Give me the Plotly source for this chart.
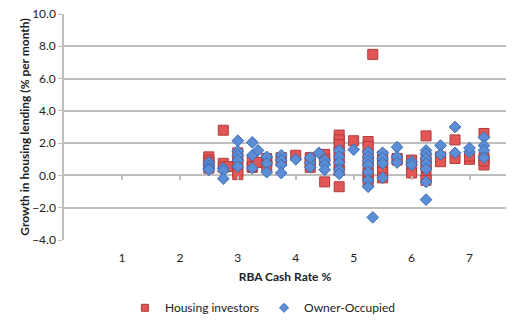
import plotly.graph_objects as go

# RBA cash rate (%) vs monthly growth in housing lending (%)
inv_rate = [2.5, 2.5, 2.5, 2.5, 2.5,
            2.75, 2.75, 2.75, 2.85,
            3.0, 3.0, 3.0, 3.0, 3.0,
            3.25, 3.25, 3.25, 3.35,
            3.5, 3.5, 3.5,
            3.75, 3.75,
            4.0,
            4.25, 4.25, 4.25,
            4.5, 4.5, 4.5,
            4.75, 4.75, 4.75, 4.75, 4.75, 4.75, 4.75, 4.75,
            5.0,
            5.25, 5.25, 5.25, 5.25, 5.25, 5.25, 5.25, 5.25,
            5.33,
            5.5, 5.5, 5.5, 5.5, 5.5,
            5.75, 5.75,
            6.0, 6.0, 6.0,
            6.25, 6.25, 6.25, 6.25, 6.25, 6.25,
            6.5, 6.5,
            6.75, 6.75,
            7.0, 7.0,
            7.25, 7.25, 7.25, 7.25]
inv_growth = [1.15, 0.95, 0.8, 0.6, 0.45,
              2.8, 0.75, 0.5, 0.55,
              1.4, 1.0, 0.7, 0.2, 0.05,
              0.95, 0.5, 0.55, 0.8,
              1.05, 0.85, 0.6,
              1.1, 0.9,
              1.25,
              1.1, 0.5, 0.8,
              1.3, 1.0, -0.4,
              2.5, 2.2, 1.9, 1.5, 1.1, 0.7, 0.3, -0.7,
              2.15,
              2.1, 1.8, 1.3, 0.9, 0.5, 0.1, -0.15, -0.4,
              7.5,
              1.2, 0.8, 0.45, 0.2, -0.15,
              1.05, 0.95,
              0.95, 0.55, 0.15,
              2.45, 1.1, 0.75, 0.5, -0.15, -0.3,
              1.15, 0.85,
              2.2, 1.05,
              1.0, 1.2,
              2.6, 1.1, 0.65, 0.9]

own_rate = [2.5, 2.5, 2.5, 2.5,
            2.75, 2.75, 2.75,
            3.0, 3.0, 3.0, 3.0, 3.0,
            3.25, 3.25, 3.25, 3.35,
            3.5, 3.5, 3.5,
            3.75, 3.75, 3.75, 3.75,
            4.0,
            4.25, 4.25, 4.25, 4.4,
            4.5, 4.5, 4.5,
            4.75, 4.75, 4.75, 4.75, 4.75,
            5.0,
            5.25, 5.25, 5.25, 5.25, 5.25, 5.25, 5.25,
            5.33,
            5.5, 5.5, 5.5, 5.5,
            5.75, 5.75, 5.75,
            6.0, 6.0,
            6.25, 6.25, 6.25, 6.25, 6.25, 6.25, 6.25,
            6.5, 6.5,
            6.75, 6.75,
            7.0, 7.0,
            7.25, 7.25, 7.25, 7.25]
own_growth = [0.8, 0.6, 0.45, 0.35,
              0.45, 0.3, -0.2,
              2.15, 1.5, 1.25, 0.95, 0.55,
              2.05, 1.25, 0.45, 1.55,
              1.15, 0.75, 0.2,
              1.25, 0.95, 0.65, 0.15,
              1.0,
              0.8, 0.5, 1.1, 1.4,
              0.95, 0.65, 0.35,
              1.55, 1.15, 0.8, 0.35, 0.1,
              1.6,
              1.45, 1.15, 0.9, 0.65, 0.2, -0.3, -0.7,
              -2.6,
              1.4, 1.05, 0.75, -0.15,
              1.75, 1.15, 0.8,
              0.85, 0.65,
              1.55, 1.35, 1.05, 0.75, 0.4, -0.4, -1.5,
              1.85, 1.3,
              3.0, 1.4,
              1.45, 1.7,
              2.35, 1.85, 1.55, 1.1]

x_ticks = [1, 2, 3, 4, 5, 6, 7]
y_ticks = [-4, -2, 0, 2, 4, 6, 8, 10]

FONT = "Lato, 'Open Sans', sans-serif"
GRID = "#BFBFBF"
RED, RED_EDGE = "#E35656", "#B23A3A"
BLUE, BLUE_EDGE = "#5B8ED6", "#3F6DB0"

fig = go.Figure()
fig.add_trace(go.Scatter(
    x=inv_rate, y=inv_growth, mode="markers", name="Housing investors",
    showlegend=False,
    marker=dict(symbol="square", size=10, color=RED,
                line=dict(color=RED_EDGE, width=1)),
))
fig.add_trace(go.Scatter(
    x=own_rate, y=own_growth, mode="markers", name="Owner-Occupied",
    showlegend=False,
    marker=dict(symbol="diamond", size=9, color=BLUE,
                line=dict(color=BLUE_EDGE, width=1)),
))
# smaller legend swatches
fig.add_trace(go.Scatter(
    x=[None], y=[None], mode="markers", name="Housing investors",
    marker=dict(symbol="square", size=7, color=RED,
                line=dict(color=RED_EDGE, width=1)),
))
fig.add_trace(go.Scatter(
    x=[None], y=[None], mode="markers", name="Owner-Occupied",
    marker=dict(symbol="diamond", size=7, color=BLUE,
                line=dict(color=BLUE_EDGE, width=1)),
))

fig.update_layout(
    width=522, height=326,
    margin=dict(l=64, r=16, t=14, b=86, autoexpand=False),
    paper_bgcolor="white", plot_bgcolor="white",
    font=dict(family=FONT, size=12, color="#222222"),
    showlegend=True,
    legend=dict(orientation="h", x=0.45, xanchor="center", y=-0.30,
                yanchor="middle", font=dict(size=12), itemwidth=30,
                tracegroupgap=0, bgcolor="rgba(0,0,0,0)"),
    xaxis=dict(
        range=[0, 7.63], tickmode="array", tickvals=x_ticks,
        showgrid=False, zeroline=False, showline=False,
        ticks="outside", ticklen=1, tickcolor="rgba(0,0,0,0)",
        ticklabelstandoff=6, automargin=False,
        tickfont=dict(size=12),
        title=dict(text="<b>RBA Cash Rate %</b>", font=dict(size=12), standoff=8),
    ),
    yaxis=dict(
        range=[-4, 10], tickmode="array", tickvals=y_ticks, tickformat=".1f",
        showgrid=True, gridcolor=GRID, gridwidth=1.5,
        zeroline=False, showline=True, linecolor=GRID, linewidth=1.5,
        ticks="outside", ticklen=4, tickcolor=GRID, automargin=False,
        tickfont=dict(size=12),
        title=dict(text="<b>Growth in housing lending (% per month)</b>",
                   font=dict(size=12), standoff=0),
    ),
    # tick marks sitting on the zero line, where the horizontal axis crosses
    xaxis2=dict(
        overlaying="x", range=[0, 7.63], anchor="free",
        position=(0 - (-4)) / 14, side="bottom",
        showgrid=False, zeroline=False, showline=False,
        ticks="outside", ticklen=4, tickwidth=1.5, tickcolor=GRID,
        tickmode="array", tickvals=x_ticks, showticklabels=False,
        automargin=False,
    ),
)
fig.add_trace(go.Scatter(x=[None], y=[None], xaxis="x2", showlegend=False,
                         hoverinfo="skip"))

fig.write_html("out.html")
